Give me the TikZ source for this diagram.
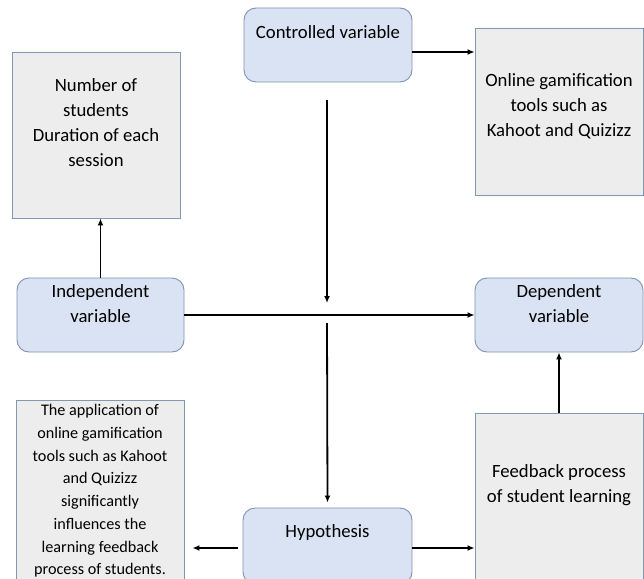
\documentclass[tikz,border=0pt]{standalone}
\usepackage{fontspec}
\setmainfont{Carlito}
\usetikzlibrary{positioning, arrows.meta, calc}

\definecolor{varblue}{HTML}{DAE3F3}
\definecolor{varedge}{HTML}{8093B0}
\definecolor{notegray}{HTML}{EDEDED}
\definecolor{noteedge}{HTML}{8497B0}

\tikzset{
    varbox/.style={draw=varedge, fill=varblue, rounded corners=12pt, line width=.9pt, minimum width=168pt, minimum height=74pt},
    notebox/.style={draw=noteedge, fill=notegray, line width=.9pt, minimum width=168pt},
    txt/.style={align=center, inner sep=0pt, font=\fontsize{18.7}{25}\selectfont},
    smalltxt/.style={align=center, inner sep=0pt, font=\fontsize{16.2}{22.7}\selectfont},
    link/.style={line width=1.8pt, -{Latex[length=7pt, width=6pt]}}
}

\begin{document}
\begin{tikzpicture}[x=1pt, y=-1pt]

        \clip (0,0) rectangle (644,578);
        \fill[white] (0,0) rectangle (644,578);

        % VARIABLES
        \node[varbox] (ctrl)  at (328,45)    {};
        \node[varbox, minimum width=167pt] (indep) at (100.5,315) {};
        \node[varbox] (dep)   at (559,315)   {};
        \node[varbox, minimum width=169pt, minimum height=76pt] (hyp) at (327.5,546) {};

        % NOTES
        \node[notebox, minimum height=167pt] (tools)    at (559,111.5) {};
        \node[notebox, minimum height=166pt] (sample)   at (96,135)    {};
        \node[notebox, minimum height=192pt] (claim)    at (100,496)   {};
        \node[notebox, minimum height=180pt] (feedback) at (559,503)   {};

        % TEXTS
        \node[txt] (ctrltxt)  at (328,32)    {Controlled variable};
        \node[txt] (indeptxt) at (100.5,303.5) {Independent\\variable};
        \node[txt] (deptxt)   at (559,303.5) {Dependent\\variable};
        \node[txt] (hyptxt)   at (327.5,533) {Hypothesis};
        \node[txt] (toolstxt) at (559,106)   {Online gamification\\tools such as\\Kahoot and Quizizz};
        \node[txt] (sampletxt) at (96,122.5) {Number of\\students\\Duration of each\\session};
        \node[txt] (feedbacktxt) at (559,485.5) {Feedback process\\of student learning};
        \node[smalltxt] (claimtxt) at (100,491) {The application of\\online gamification\\tools such as Kahoot\\and Quizizz\\significantly\\influences the\\learning feedback\\process of students.};

        % FREE ENDS
        \coordinate (drop1) at (327,100);
        \coordinate (drop2) at (327,303);
        \coordinate (drop3) at (327,323);

        % CONNECTORS
        \draw[link] ([yshift=-7pt]ctrl.east) -- ([yshift=-7pt]ctrl.east -| tools.west);
        \draw[link] (drop1) -- (drop2);
        \draw[link] (drop3) -- ([yshift=5pt]hyp.north);
        \draw[link] (indep.east) -- (indep.east -| dep.west);
        \draw[link] (indep.north) -- (indep.north |- sample.south);
        \draw[link] (feedback.north) -- (feedback.north |- dep.south);
        \draw[link] ([yshift=-2pt]hyp.east) -- ([yshift=-2pt]hyp.east -| feedback.west);
        \draw[link, shorten <=5pt, shorten >=8pt] ([yshift=-2pt]hyp.west) -- ([yshift=-2pt]hyp.west -| claim.east);

    \end{tikzpicture}
\end{document}
